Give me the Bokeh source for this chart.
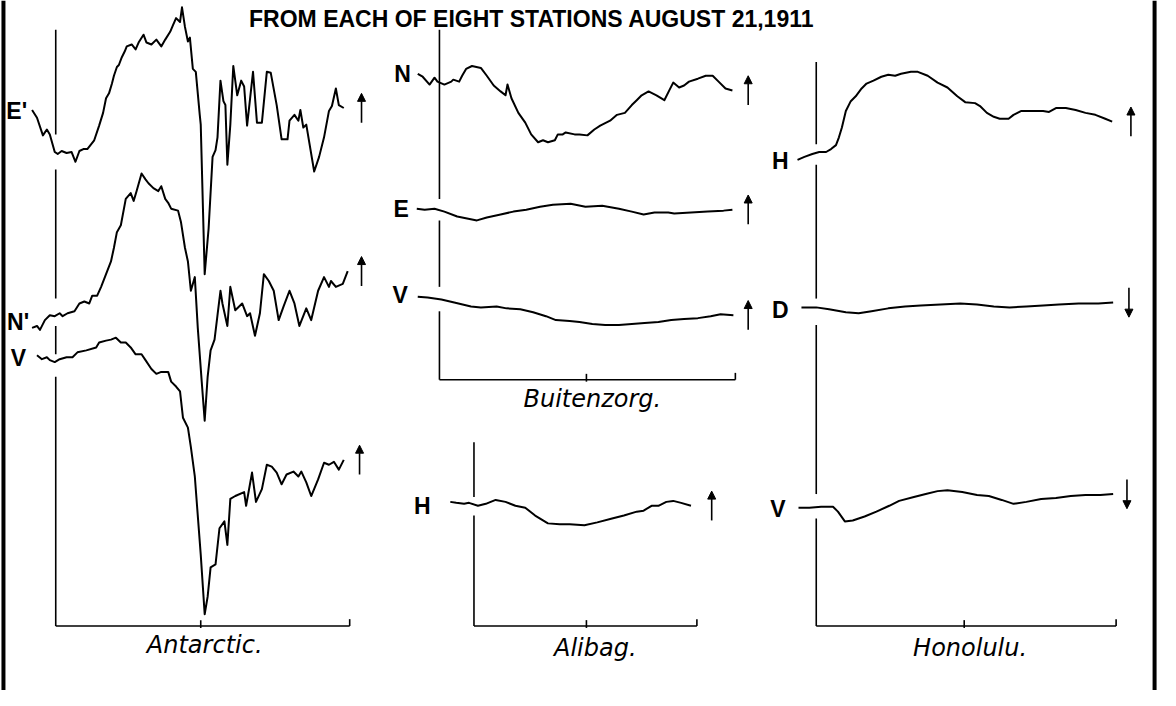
from bokeh.plotting import figure
from bokeh.models import Range1d, Arrow, NormalHead, Span
from bokeh.core.properties import value
from bokeh.embed import file_html
from bokeh.resources import INLINE

TITLE = "FROM EACH OF EIGHT STATIONS AUGUST 21,1911"
STATIONS = ["Antarctic.", "Buitenzorg.", "Alibag.", "Honolulu."]

# ---- Antarctic traces (time position, trace value) ----
ant_E_t = [32, 37, 43, 47, 50, 55, 58, 62, 67, 72, 76, 80, 84, 88, 95, 100, 104, 107, 110, 113, 115, 118,
           120, 123, 126, 128, 133, 137, 140, 145, 148, 153, 158, 163, 167, 172, 175, 178, 182, 184, 187, 190,
           192, 195, 198, 202, 203, 207, 211, 215, 218, 220, 223, 226, 228, 230, 233, 236, 240, 244,
           247, 250, 256, 260, 265, 270, 274, 280, 285, 291, 293, 298, 302, 304, 307, 310, 318, 323,
           328, 333, 336, 340, 343, 348]
ant_E_v = [112, 120, 138, 132, 137, 155, 157, 154, 156, 155, 165, 154, 152, 152, 143, 128, 115, 100, 95, 85, 77, 68,
           66, 58, 52, 47, 45, 50, 43, 35, 43, 45, 40, 47, 40, 32, 25, 18, 22, 7, 27, 42,
           38, 70, 73, 117, 127, 280, 233, 160, 153, 140, 82, 103, 107, 168, 127, 67, 97, 82,
           88, 128, 73, 125, 125, 73, 74, 107, 142, 142, 123, 117, 123, 112, 130, 127, 175, 160,
           140, 113, 108, 90, 107, 110]

ant_N_t = [32, 37, 40, 45, 50, 55, 60, 63, 68, 75, 80, 85, 90, 93, 98, 102, 107, 112, 115, 118,
           122, 127, 132, 135, 138, 143, 147, 150, 155, 160, 163, 167, 170, 173, 180, 183, 187, 190,
           193, 197, 200, 204, 207, 210, 213, 217, 220, 223, 225, 230, 233, 238, 245, 250, 253, 258,
           263, 267, 272, 277, 282, 287, 293, 298, 303, 310, 315, 322, 328, 333, 335, 340, 347, 352]
ant_N_v = [335, 333, 337, 327, 322, 323, 320, 323, 320, 318, 310, 308, 310, 302, 302, 293, 280, 267, 253, 237,
           230, 203, 197, 205, 195, 177, 183, 187, 192, 195, 190, 203, 207, 213, 215, 227, 253, 267,
           297, 283, 335, 390, 430, 385, 358, 347, 322, 297, 310, 333, 293, 317, 310, 323, 320, 343,
           320, 280, 287, 297, 327, 313, 297, 310, 333, 315, 327, 297, 283, 293, 287, 293, 290, 277]

ant_V_t = [37, 42, 47, 50, 55, 60, 67, 73, 78, 87, 97, 100, 107, 112, 117, 122, 127, 132, 137, 143,
           147, 153, 158, 163, 170, 173, 178, 182, 185, 190, 193, 197, 200, 203, 207, 210, 213, 218,
           222, 227, 230, 233, 238, 247, 249, 255, 259, 265, 270, 275, 280, 285, 290, 297, 302, 305,
           310, 315, 322, 328, 333, 338, 343, 348]
ant_V_v = [363, 367, 365, 368, 370, 367, 365, 365, 360, 358, 355, 350, 348, 347, 345, 350, 350, 355, 362, 362,
           368, 377, 382, 380, 380, 390, 395, 400, 427, 437, 457, 487, 527, 567, 628, 610, 580, 577,
           540, 533, 557, 510, 507, 503, 517, 483, 513, 500, 475, 477, 483, 495, 485, 482, 487, 482,
           493, 507, 490, 473, 475, 472, 480, 470]

# ---- Buitenzorg traces ----
bui_N_t = [423, 428, 435, 440, 443, 450, 457, 459, 465, 468, 472, 478, 487, 493, 500, 507, 512, 514, 518, 525,
           532, 538, 545, 550, 555, 562, 565, 570, 573, 582, 587, 595, 602, 608, 618, 625, 633, 640,
           645, 650, 657, 665, 673, 678, 682, 688, 693, 698, 707, 715, 722, 728, 735, 742]
bui_N_v = [75, 78, 86, 79, 83, 86, 83, 81, 83, 77, 70, 67, 69, 77, 87, 93, 97, 86, 100, 115,
           125, 137, 145, 143, 145, 143, 137, 137, 135, 137, 137, 138, 132, 128, 123, 117, 115, 107,
           102, 97, 93, 97, 102, 92, 84, 89, 87, 83, 80, 77, 77, 83, 90, 92]

bui_E_t = [422, 430, 440, 450, 463, 473, 483, 493, 507, 520, 533, 547, 560, 578, 593, 610, 627, 640,
           652, 663, 677, 683, 700, 717, 733, 742]
bui_E_v = [213, 214, 213, 216, 221, 223, 225, 222, 219, 216, 214, 211, 209, 208, 211, 210, 213, 216,
           219, 217, 217, 218, 217, 216, 215, 214]

bui_V_t = [423, 433, 447, 460, 477, 487, 503, 513, 527, 540, 553, 563, 577, 587, 600, 613, 627, 640,
           653, 667, 680, 693, 707, 720, 730, 743]
bui_V_v = [303, 304, 306, 309, 313, 314, 313, 315, 316, 319, 323, 327, 328, 329, 331, 332, 332, 331,
           330, 329, 327, 326, 325, 323, 321, 322]

# ---- Alibag trace ----
ali_H_t = [456, 462, 470, 475, 484, 492, 502, 512, 522, 532, 542, 555, 567, 577, 592, 605, 620, 632,
           645, 652, 660, 667, 675, 682, 690, 700]
ali_H_v = [513, 514, 515, 514, 517, 515, 511, 513, 517, 519, 527, 535, 536, 536, 537, 534, 530, 527,
           523, 522, 517, 517, 513, 512, 514, 517]

# ---- Honolulu traces ----
hon_H_t = [808, 815, 823, 830, 837, 842, 847, 850, 853, 857, 862, 867, 873, 878, 885, 893, 900, 907,
           913, 923, 930, 940, 950, 960, 970, 978, 988, 993, 1000, 1007, 1013, 1022, 1027, 1035,
           1047, 1057, 1063, 1070, 1080, 1090, 1100, 1110, 1120, 1127]
hon_H_v = [163, 160, 157, 155, 155, 152, 148, 140, 130, 113, 103, 98, 90, 85, 82, 78, 76, 77,
           75, 73, 73, 77, 84, 89, 98, 104, 105, 108, 115, 119, 121, 121, 117, 113,
           113, 113, 114, 110, 110, 112, 115, 117, 121, 124]

hon_D_t = [812, 827, 840, 857, 870, 883, 900, 917, 933, 953, 973, 990, 1007, 1023, 1040, 1057, 1073,
           1093, 1113, 1128]
hon_D_v = [314, 314, 316, 319, 320, 318, 315, 313, 312, 311, 310, 311, 313, 314, 313, 312, 311,
           310, 310, 309]

hon_V_t = [809, 820, 832, 844, 849, 856, 864, 876, 888, 901, 911, 926, 938, 950, 960, 975, 990,
           1002, 1015, 1027, 1040, 1055, 1070, 1085, 1100, 1115, 1128]
hon_V_v = [519, 519, 518, 518, 523, 533, 532, 528, 523, 517, 512, 508, 505, 502, 501, 503, 506,
           507, 511, 515, 513, 510, 509, 507, 506, 506, 505]

# component label, times, values, label anchor (right edge, centre), arrow column, arrow direction
traces = [
    ("E'", ant_E_t, ant_E_v, (27, 113), 366, "up"),
    ("N'", ant_N_t, ant_N_v, (29, 329), 366, "up"),
    ("V", ant_V_t, ant_V_v, (26, 366), 364, "up"),
    ("N", bui_N_t, bui_N_v, (416, 75), 758, "up"),
    ("E", bui_E_t, bui_E_v, (414, 213), 758, "up"),
    ("V", bui_V_t, bui_V_v, (413, 301), 758, "up"),
    ("H", ali_H_t, ali_H_v, (436, 517), 721, "up"),
    ("H", hon_H_t, hon_H_v, (799, 164), 1146, "up"),
    ("D", hon_D_t, hon_D_v, (799, 317), 1144, "down"),
    ("V", hon_V_t, hon_V_v, (796, 520), 1142, "down"),
]

# panel frames: vertical base line x, its segments, bottom line y, right end x, mid tick x
panels = [
    (56, [(30, 137), (173, 305), (333, 362), (385, 640)], 640, 354, 203),
    (445, [(30, 203), (225, 293), (318, 388)], 388, 745, 594),
    (480, [(452, 508), (527, 640)], 640, 706, 594),
    (827, [(63, 147), (168, 305), (332, 505), (530, 640)], 640, 1131, 977),
]
station_pos = [(207, 659), (600, 408), (603, 663), (983, 663)]

p = figure(width=1160, height=690, output_backend="svg", toolbar_location=None,
           x_range=Range1d(0, 1176), y_range=Range1d(706, 0), min_border=0)
p.axis.visible = False
p.grid.visible = False
p.outline_line_color = None
p.background_fill_color = "white"
p.border_fill_color = "white"

# page borders
for loc in (3, 1170):
    p.add_layout(Span(location=loc, dimension="height", line_color="black", line_width=4))

# title
p.text(x=[252], y=[19], text=[TITLE], text_font=value("Liberation Sans"), text_font_style="bold",
       text_font_size="23px", text_baseline="alphabetic", text_align="left", text_color="black")

# panel frames
for vx, segs, by, rx, mx in panels:
    p.segment(x0=[vx] * len(segs), y0=[s[0] for s in segs], x1=[vx] * len(segs), y1=[s[1] for s in segs],
              line_color="black", line_width=1.6)
    p.segment(x0=[vx, mx, rx], y0=[by, by - 6, by - 7], x1=[rx, mx, rx], y1=[by, by + 2, by],
              line_color="black", line_width=1.6)

p.text(x=[s[0] for s in station_pos], y=[s[1] for s in station_pos], text=STATIONS,
       text_font=value("DejaVu Sans"), text_font_style="italic", text_font_size="24px",
       text_align="center", text_baseline="middle", text_color="black")

for lab, t, v, (lx, ly), ax, d in traces:
    p.line(t, v, line_color="black", line_width=2, line_join="round")
    p.text(x=[lx], y=[ly], text=[lab], text_font=value("Liberation Sans"), text_font_style="bold",
           text_font_size="23px", text_align="right", text_baseline="middle", text_color="black")
    cy = v[-1]
    if d == "up":
        ys, ye = cy + 15, cy - 15
    else:
        ys, ye = cy - 15, cy + 15
    p.add_layout(Arrow(end=NormalHead(size=8, fill_color="black", line_color="black"),
                       x_start=ax, y_start=ys, x_end=ax, y_end=ye,
                       line_color="black", line_width=1.6))

open("out.html", "w").write(file_html(p, INLINE))
